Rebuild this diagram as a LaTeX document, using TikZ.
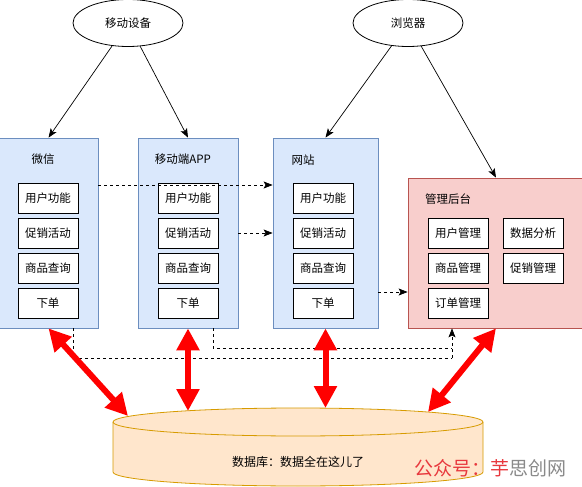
\documentclass[tikz,border=0pt]{standalone}
\usepackage{fontspec}
\setmainfont{Noto Sans CJK SC}
\usetikzlibrary{arrows.meta,shapes.geometric}
\definecolor{bluefill}{HTML}{DAE8FC}
\definecolor{blueline}{HTML}{6C8EBF}
\definecolor{pinkfill}{HTML}{F8CECC}
\definecolor{pinkline}{HTML}{B85450}
\definecolor{dbfill}{HTML}{FFE6CC}
\definecolor{dbline}{HTML}{D79B00}
\definecolor{wmred}{HTML}{E8383D}
\definecolor{wmgray}{HTML}{8A8A8A}
\begin{document}
\begin{tikzpicture}[x=1pt,y=-1pt,
  every node/.style={font=\fontsize{11.5}{13}\selectfont, inner sep=0pt},
  devnode/.style={ellipse, draw, minimum width=110pt, minimum height=47pt, line width=0.8pt},
  grp/.style={draw=blueline, fill=bluefill, line width=0.8pt},
  admbox/.style={draw=pinkline, fill=pinkfill, line width=0.8pt},
  item/.style={draw, fill=white, minimum width=60pt, minimum height=30pt, line width=0.8pt},
  arr/.style={-{Stealth[length=9pt,width=7pt,inset=2pt]}, line width=0.7pt},
  darr/.style={arr, dash pattern=on 3pt off 3pt},
  dline/.style={dash pattern=on 3pt off 3pt, line width=0.7pt},
  big/.style={{Triangle[length=22pt,width=22pt]}-{Triangle[length=22pt,width=22pt]}, line width=6pt, draw=red}
]
\useasboundingbox (0,0) rectangle (582,487);
\fill[white] (0,0) rectangle (582,487);

% top ellipses
\node[devnode] (dev) at (128,23) {移动设备};
\node[devnode] (br) at (408,23) {浏览器};

% containers
\node[grp, minimum width=99pt, minimum height=190pt] (wx) at (48.5,233) {};
\node[grp, minimum width=100pt, minimum height=190pt] (app) at (188,233) {};
\node[grp, minimum width=105pt, minimum height=190pt] (web) at (325.5,233) {};
\node[admbox, minimum width=176pt, minimum height=150pt] (adm) at (496,253) {};

\node (wxt) at (43,159) {微信};
\node (appt) at (183,159) {移动端APP};
\node (webt) at (303,160) {网站};
\node (admt) at (448,199) {管理后台};

% items
\node[item] (wx1) at (48,198) {用户功能};
\node[item] (wx2) at (48,233) {促销活动};
\node[item] (wx3) at (48,268) {商品查询};
\node[item] (wx4) at (48,303) {下单};

\node[item] (app1) at (188,198) {用户功能};
\node[item] (app2) at (188,233) {促销活动};
\node[item] (app3) at (188,268) {商品查询};
\node[item] (app4) at (188,303) {下单};

\node[item] (web1) at (323,198) {用户功能};
\node[item] (web2) at (323,233) {促销活动};
\node[item] (web3) at (323,268) {商品查询};
\node[item] (web4) at (323,303) {下单};

\node[item] (adm1) at (458,233) {用户管理};
\node[item] (adm2) at (458,268) {商品管理};
\node[item] (adm3) at (458,303) {订单管理};
\node[item] (adm4) at (533,233) {数据分析};
\node[item] (adm5) at (533,268) {促销管理};

% black arrows
\draw[arr] (dev) -- (wx.north);
\draw[arr] (dev) -- (app.north);
\draw[arr] (br) -- (web.north);
\draw[arr] (br) -- (adm.north);

% dashed connectors
\draw[darr] (wx.east |- 0,185) -- (web.west |- 0,185);
\draw[darr] (app.east) -- (web.west);
\draw[darr] (web.east |- 0,292) -- (adm.west |- 0,292);
\draw[dline] (wx.south -| 73,0) -- (73,358) -- (452,358);
\draw[dline] (app.south -| 213,0) -- (213,348) -- (452,348);
\draw[darr] (452,358) -- (adm.south -| 452,0);

% database cylinder
\fill[dbfill] (113,422) -- (113,472) arc[start angle=180,end angle=360,x radius=185pt,y radius=14pt] -- (483,422) -- cycle;
\draw[dbline, line width=0.8pt] (113,422) -- (113,472) arc[start angle=180,end angle=360,x radius=185pt,y radius=14pt] -- (483,422);
\draw[dbline, fill=dbfill, line width=0.8pt] (298,422) ellipse[x radius=185pt, y radius=14pt];
\node[font=\fontsize{12}{14}\selectfont] (db) at (298,462) {数据库：数据全在这儿了};

\coordinate (db1) at (128,416);
\coordinate (db2) at (188,411);
\coordinate (db3) at (325.5,408);
\coordinate (db4) at (428,412);

% red arrows
\draw[big] (wx.south) -- (db1);
\draw[big] (app.south) -- (db2);
\draw[big] (web.south) -- (db3);
\draw[big] (adm.south) -- (db4);

% watermark
\node[anchor=west, font=\fontsize{19}{21}\selectfont] (wm) at (414,468) {\textcolor{wmred}{公众号：芋}\textcolor{wmgray}{思创网}};
\end{tikzpicture}
\end{document}
